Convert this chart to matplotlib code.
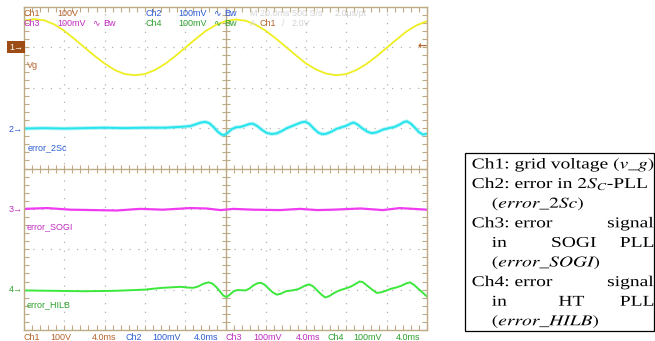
import matplotlib
matplotlib.use("Agg")
import matplotlib.pyplot as plt
import numpy as np
from matplotlib.textpath import TextPath
from matplotlib.patches import PathPatch, Rectangle
from matplotlib.font_manager import FontProperties
from matplotlib.transforms import Affine2D

# scope traces, time in ms (4 ms/div, 10 div)
t1 = np.arange(0, 41, 1.0)
v1 = [66, 70, 67, 57, 41, 21, 0, -21, -40, -56, -66, -69, -66, -56, -41, -22, -1,
      20, 40, 55, 65, 69, 66, 56, 41, 22, 1, -20, -40, -55, -65, -69, -66, -56,
      -41, -22, -1, 20, 40, 55, 65]  # V, 100 V/div

t2 = [0, 2, 4, 6, 8, 10, 12, 14, 15.5, 16.5, 17.0, 17.5, 18.0, 18.4, 18.8, 19.2,
      19.6, 19.9, 20.2, 20.6, 21.0, 21.5, 22.0, 22.4, 22.7, 23.1, 23.6, 24.1,
      24.6, 25.1, 25.6, 26.1, 26.6, 27.1, 27.5, 27.9, 28.3, 28.8, 29.2, 29.6,
      30.0, 30.5, 31.0, 31.5, 32.0, 32.4, 32.7, 33.1, 33.6, 34.1, 34.5, 35.0,
      35.6, 36.2, 36.8, 37.3, 37.7, 38.0, 38.4, 38.8, 39.2, 39.6, 40.0]
v2 = [-1, 0, -1, 0, 1, 0, 1, 1, 3, 5, 9, 13.5, 15.5, 12, 3, -8, -16, -17, -12, -3,
      2, 3, 7, 10.5, 11, 6, -4, -12, -14.5, -13, -7, 0, 5, 10, 14, 16, 11, -2,
      -11, -15, -14, -9, -2, 2, 6, 11, 14, 9, -1, -9, -12.5, -10.5, -4, 0, 3, 9,
      15, 17, 11, 1, -10, -16, -14]  # mV, 100 mV/div

t3 = [0, 2.3, 4.6, 6.9, 9.2, 11.5, 13.8, 16.5, 18.1, 19.5, 20.8, 22.7, 25.4,
      27.4, 29.1, 30.7, 33.4, 35.6, 37.3, 40.0]
v3 = [0, 2, -2, -3, -4, 0, -2, 2, 1, -3, 0, -2, -3, 0, -3, -2, 1, -3, 2, -2]

t4 = [0, 3, 6, 9, 12, 13.5, 15.5, 16.3, 16.8, 17.3, 17.8, 18.3, 18.7, 19.1, 19.5,
      19.8, 20.1, 20.4, 20.8, 21.2, 21.6, 22.0, 22.4, 22.8, 23.2, 23.5, 23.9,
      24.3, 24.7, 25.1, 25.5, 26.0, 26.6, 27.2, 27.6, 28.0, 28.3, 28.7, 29.1,
      29.5, 29.9, 30.3, 30.8, 31.3, 31.8, 32.4, 32.9, 33.3, 33.6, 34.0, 34.5,
      35.0, 35.4, 35.9, 36.4, 36.9, 37.4, 37.9, 38.3, 38.7, 39.1, 39.5, 40.0]
v4 = [-2, -3, -4, -3, 0, 4, 7, 5, 4.5, 8, 14.5, 18, 15, 6, -6, -15, -18.5, -13,
      -4, -1, -1.5, -2, 3, 11, 16, 17, 12, 2, -7, -12.5, -10, -4, -2, 1, 6, 11,
      13, 8, -2, -12, -19.5, -16, -8, -2, 2, 7, 14, 20, 19, 11, 1, -8, -7, -3, 2,
      5, 9, 15, 18, 12, 3, -6, -17]

offsets = [3, 1, -1, -3]          # channel ground markers, in divisions
scales = [100, 100, 100, 100]     # units per division

W, H = 655, 341
BROWN, BLUE, MAG, GREEN = "#b4642c", "#2c5cd4", "#c02cc0", "#2ca02c"
FAINT = "#d4d4d4"
TAN = "#bcab84"
DOT = "#b0b0b0"


def fx(x):
    return x / W


def fy(y):
    return 1 - y / H


fig = plt.figure(figsize=(W / 100, H / 100), dpi=100)
fig.patch.set_facecolor("white")

ax = fig.add_axes([fx(24), fy(330), (427 - 24) / W, (330 - 7) / H])
ax.set_xlim(0, 40)
ax.set_ylim(-4, 4)
for s in ax.spines.values():
    s.set_color(TAN)
    s.set_linewidth(1.0)

xt = np.arange(0, 40.01, 0.8)
yt = np.arange(-4, 4.01, 0.2)
ax.set_xticks(xt)
ax.set_yticks(yt)
ax.tick_params(direction="in", length=3.5, width=0.8, color=TAN, top=True, right=True,
               labelbottom=False, labelleft=False)

for xv in range(4, 40, 4):
    if xv != 20:
        ax.axvline(xv, color=DOT, lw=0.9, ls=(0, (1, 6)))
for yv in range(-3, 4):
    if yv != 0:
        ax.axhline(yv, color=DOT, lw=0.9, ls=(0, (1, 6)))
ax.axvline(20, color=TAN, lw=1.0)
ax.axhline(0, color=TAN, lw=1.0)
ax.plot(np.full_like(yt, 20), yt, ls="none", marker="_", ms=6, mew=0.8, color=TAN)
ax.plot(xt, np.zeros_like(xt), ls="none", marker="|", ms=6, mew=0.8, color=TAN)

ax.plot(t1, offsets[0] + np.array(v1) / scales[0], color="#eeee22", lw=1.3)
ax.plot(t2, offsets[1] + np.array(v2) / scales[1], color="#28e4ec", lw=2.8, alpha=0.35)
ax.plot(t2, offsets[1] + np.array(v2) / scales[1], color="#28e4ec", lw=1.4)
ax.plot(t3, offsets[2] + np.array(v3) / scales[2], color="#f03cf0", lw=1.6)
ax.plot(t4, offsets[3] + np.array(v4) / scales[3], color="#3ce83c", lw=1.4)


def stext(x, y, s, c, size=6.5, **kw):
    fig.text(fx(x), fy(y), s, color=c, fontsize=size, va="center", ha="left",
             family=["Liberation Sans", "DejaVu Sans"], zorder=5, **kw)


# header
for x, s, c in [(23, "Ch1", BROWN), (57, "100V", BROWN), (145, "Ch2", BLUE),
                (178, "100mV", BLUE), (213, "∿", BLUE), (224, "Bw", BLUE),
                (250, "M 20.0ms 500 S/s", FAINT), (335, "2.0μs/pt", FAINT)]:
    stext(x, 13, s, c)
for x, s, c in [(23, "Ch3", MAG), (57, "100mV", MAG), (92, "∿", MAG), (103, "Bw", MAG),
                (145, "Ch4", GREEN), (178, "100mV", GREEN), (213, "∿", GREEN),
                (224, "Bw", GREEN), (250, "A", FAINT), (260, "Ch1", BROWN),
                (282, "/", FAINT), (292, "2.0V", FAINT)]:
    stext(x, 23, s, c)

# footer
for x, s, c in [(23, "Ch1", BROWN), (50, "100V", BROWN), (92, "4.0ms", BROWN),
                (125, "Ch2", BLUE), (152, "100mV", BLUE), (194, "4.0ms", BLUE),
                (226, "Ch3", MAG), (253, "100mV", MAG), (296, "4.0ms", MAG),
                (327, "Ch4", GREEN), (353, "100mV", GREEN), (396, "4.0ms", GREEN)]:
    stext(x, 337.5, s, c)

# channel names and markers
stext(27, 66, "Vg", BROWN)
stext(28, 147.5, "error_2Sc", BLUE)
stext(27, 226.5, "error_SOGI", MAG)
stext(27, 305, "error_HILB", GREEN)
fig.text(fx(9), fy(47), "1→", color="white", fontsize=6.5, va="center", ha="left",
         family=["Liberation Sans", "DejaVu Sans"],
         bbox=dict(boxstyle="square,pad=0.2", fc="#9c4c14", ec="none"))
for y, s, c in [(129, "2→", BLUE), (209, "3→", MAG), (290, "4→", GREEN)]:
    fig.text(fx(23), fy(y), s, color=c, fontsize=6.5, va="center", ha="right",
             family=["Liberation Sans", "DejaVu Sans"])
fig.text(fx(427), fy(46.5), "←", color=BROWN, fontsize=8, va="center", ha="right",
         family="DejaVu Sans", weight="bold", zorder=5)

# legend box (stretched Times-like text)
plt.rcParams["mathtext.fontset"] = "stix"
serif = FontProperties(family="Liberation Serif")
first = "Ch1: grid voltage $(v\\_g)$"
SX = (653.3 - 471.7) / TextPath((0, 0), first, size=1, prop=serif).get_extents().x1
SY = 15.0
L0, IND, R0 = 471.7, 491.7, 653.3


def ltext(s, x, line, ha="left"):
    tp = TextPath((0, 0), s, size=1, prop=serif)
    ext = tp.get_extents()
    if ha == "right":
        x0 = x - ext.x1 * SX
    elif ha == "center":
        x0 = x - (ext.x0 + ext.x1) / 2 * SX
    else:
        x0 = x
    yb = 168.5 + line * 19.6
    tr = Affine2D().scale(SX / W, SY / H).translate(fx(x0), fy(yb)) + fig.transFigure
    fig.add_artist(PathPatch(tp, transform=tr, fc="black", ec="none"))


legend_lines = [
    [(first, L0, "left")],
    [("Ch2: error in $2S_C$-PLL", L0, "left")],
    [("$(error\\_2Sc)$", IND, "left")],
    [("Ch3: error", L0, "left"), ("signal", R0, "right")],
    [("in", IND, "left"), ("SOGI", 574, "center"), ("PLL", R0, "right")],
    [("$(error\\_SOGI)$", IND, "left")],
    [("Ch4: error", L0, "left"), ("signal", R0, "right")],
    [("in", IND, "left"), ("HT", 571.5, "center"), ("PLL", R0, "right")],
    [("$(error\\_HILB)$", IND, "left")],
]
for i, parts in enumerate(legend_lines):
    for s, x, ha in parts:
        ltext(s, x, i, ha)

fig.add_artist(Rectangle((fx(465), fy(331)), (654 - 465) / W, (331 - 153) / H,
                         transform=fig.transFigure, fill=False, ec="black", lw=0.9))

fig.savefig("out.png", dpi=100)
